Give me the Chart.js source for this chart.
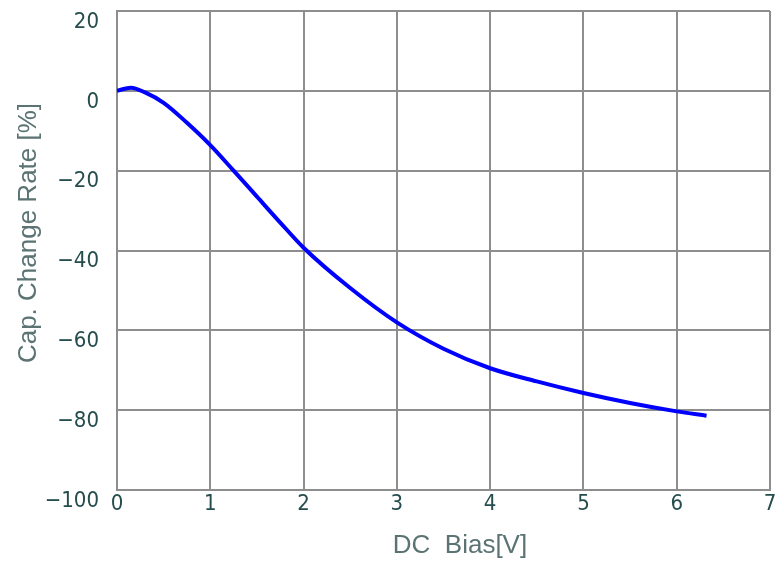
<!DOCTYPE html>
<html>
<head>
<meta charset="utf-8">
<script src="https://cdn.jsdelivr.net/npm/chart.js@4/dist/chart.umd.min.js"></script>
<style>
  html, body { margin: 0; padding: 0; background: #fff; }
  #wrap { position: relative; width: 777px; height: 564px; }
</style>
</head>
<body>
<div id="wrap"><canvas id="biasChart"></canvas></div>
<script>
// DC bias voltage (V) and capacitance change rate (%)
const biasVolts = [0, 0.15, 0.3, 0.5, 0.75, 1, 1.25, 1.5, 1.75, 2, 2.5, 3, 3.5, 4, 4.5, 5, 5.5, 6, 6.32];
const capChange = [0, 0.8, -0.4, -3, -8, -13.6, -20, -26.5, -33, -39.3, -49.4, -58, -64.6, -69.5, -72.8, -75.7, -78.2, -80.3, -81.4];
const xTicks = [0, 1, 2, 3, 4, 5, 6, 7];
const yTicks = [20, 0, -20, -40, -60, -80, -100];

const tickColor = "#264d4d";
const titleColor = "#5b7373";
const gridColor = "#8e8e8e";
const tickFont = "'DejaVu Sans Condensed', 'Liberation Sans Narrow', sans-serif";

// axis titles drawn by hand so they sit where the original has them
const axisTitles = {
  id: "axisTitles",
  afterDraw(chart) {
    const ctx = chart.ctx;
    ctx.save();
    ctx.fillStyle = titleColor;
    ctx.font = "26px 'Liberation Sans', Arial, sans-serif";
    ctx.textAlign = "center";
    ctx.textBaseline = "middle";
    ctx.fillText("DC  Bias[V]", 460, 546);
    ctx.translate(29, 233);
    ctx.rotate(-Math.PI / 2);
    ctx.fillText("Cap. Change Rate [%]", 0, 0);
    ctx.restore();
  }
};

const ctx = document.getElementById("biasChart").getContext("2d");
new Chart(ctx, {
  type: "line",
  data: {
    datasets: [{
      data: biasVolts.map((v, i) => ({ x: v, y: capChange[i] })),
      borderColor: "#0000ff",
      borderWidth: 4,
      pointRadius: 0,
      cubicInterpolationMode: "monotone",
      fill: false
    }]
  },
  options: {
    responsive: true,
    maintainAspectRatio: false,
    animation: false,
    layout: { padding: { left: 0, right: 7, top: 11, bottom: 45 } },
    plugins: { legend: { display: false }, tooltip: { enabled: false } },
    scales: {
      x: {
        type: "linear",
        min: 0,
        max: 7,
        afterBuildTicks: (s) => { s.ticks = xTicks.map(v => ({ value: v })); },
        afterFit: (s) => { s.height = 29; s.paddingLeft = 0; s.paddingRight = 0; },
        grid: { color: gridColor, lineWidth: 2, drawTicks: false },
        border: { color: gridColor, width: 2 },
        ticks: {
          color: tickColor,
          padding: 1,
          font: { family: tickFont, size: 22 }
        }
      },
      y: {
        type: "linear",
        min: -100,
        max: 20,
        afterFit: (s) => { s.width = 117; s.paddingTop = 0; s.paddingBottom = 0; },
        afterBuildTicks: (s) => { s.ticks = yTicks.map(v => ({ value: v })); },
        grid: { color: gridColor, lineWidth: 2, drawTicks: false },
        border: { color: gridColor, width: 2 },
        ticks: {
          color: tickColor,
          padding: 18,
          labelOffset: 11,
          callback: (v) => (v < 0 ? "\u2212" + Math.abs(v) : String(v)),
          font: { family: tickFont, size: 22 }
        }
      }
    }
  },
  plugins: [axisTitles]
});
</script>
</body>
</html>
